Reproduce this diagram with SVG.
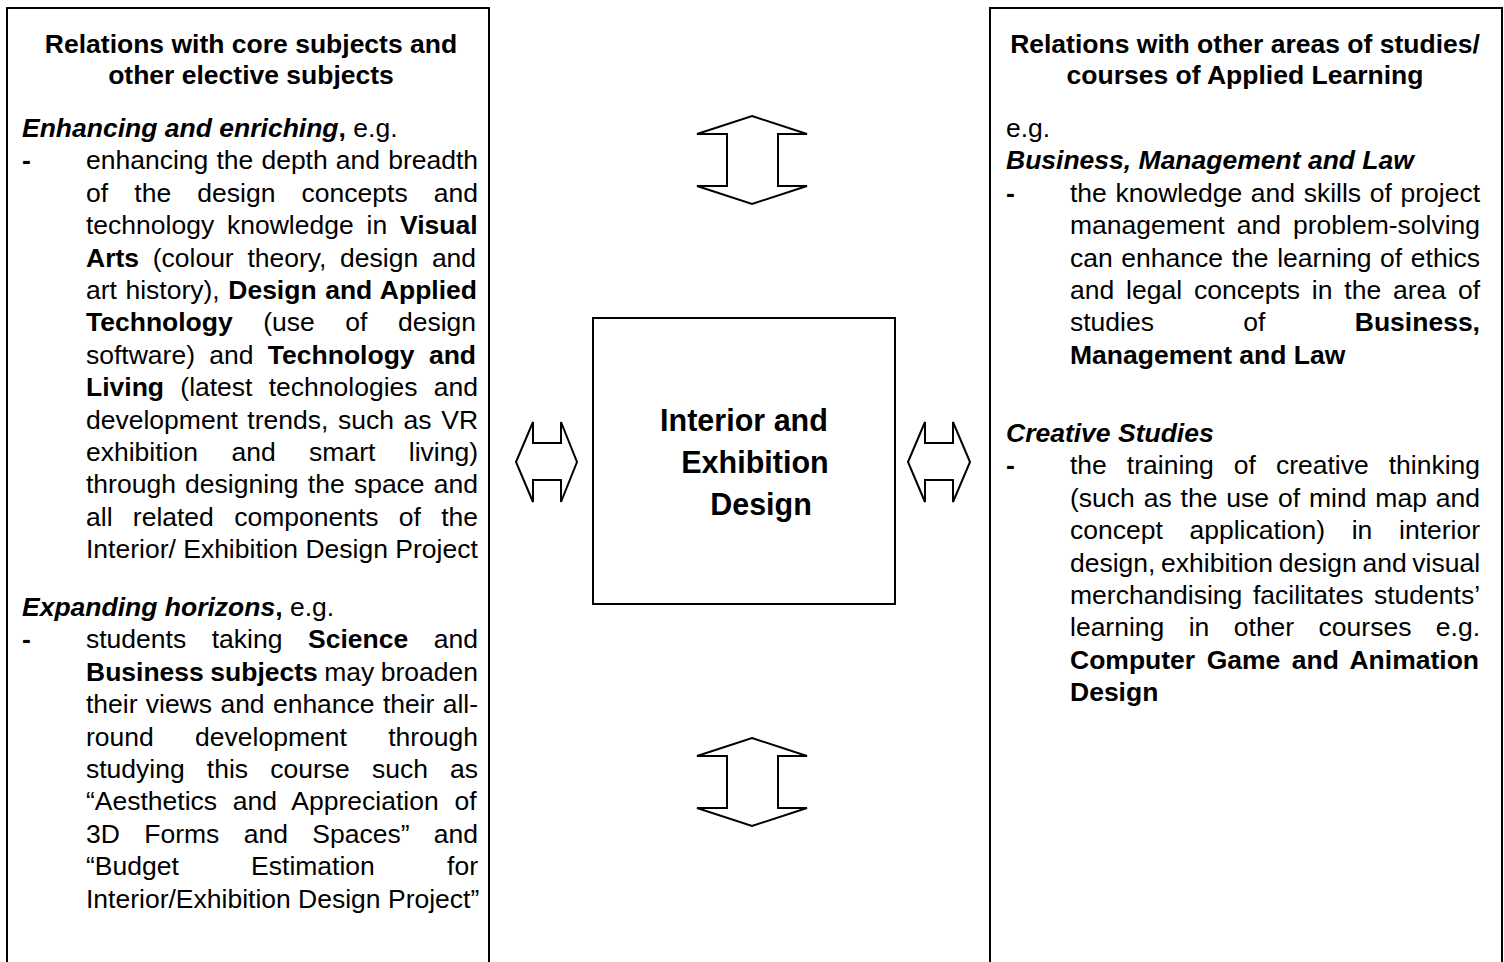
<svg xmlns="http://www.w3.org/2000/svg" width="1504" height="962" viewBox="0 0 1504 962">
<style>
.t{font-family:"Liberation Sans",Arial,sans-serif;font-size:26.5px;fill:#000}
.b{font-weight:bold}
.bi{font-weight:bold;font-style:italic}
.box{fill:#fff;stroke:#000;stroke-width:2}
.arr{fill:#fff;stroke:#000;stroke-width:2;stroke-linejoin:miter}
.ct{font-family:"Liberation Sans",Arial,sans-serif;font-size:30.5px;font-weight:bold;fill:#000;text-anchor:middle}
</style>
<rect width="1504" height="962" fill="#fff"/>

<g id="left-box">
<rect class="box" x="7" y="8" width="482" height="1000"/>
<text class="t b" x="251" y="53" text-anchor="middle">Relations with core subjects and</text>
<text class="t b" x="251" y="84" text-anchor="middle">other elective subjects</text>
<text class="t" x="22" y="137"><tspan class="bi">Enhancing and enriching</tspan><tspan class="b">,</tspan> e.g.</text>
<text class="t b" x="22" y="169.4">-</text>
<text class="t" x="86" y="169.4" word-spacing="0.77">enhancing the depth and breadth</text>
<text class="t" x="86" y="201.8" word-spacing="18.82">of the design concepts and</text>
<text class="t" x="86" y="234.2" word-spacing="5.46">technology knowledge in <tspan class="b">Visual</tspan></text>
<text class="t" x="86" y="266.6" word-spacing="6.32"><tspan class="b">Arts</tspan> (colour theory, design and</text>
<text class="t" x="86" y="299" word-spacing="1.18">art history), <tspan class="b">Design and Applied</tspan></text>
<text class="t" x="86" y="331.4" word-spacing="23.16"><tspan class="b">Technology</tspan> (use of design</text>
<text class="t" x="86" y="363.8" word-spacing="6.97">software) and <tspan class="b">Technology and</tspan></text>
<text class="t" x="86" y="396.2" word-spacing="8.91"><tspan class="b">Living</tspan> (latest technologies and</text>
<text class="t" x="86" y="428.6" word-spacing="2.26">development trends, such as VR</text>
<text class="t" x="86" y="461" word-spacing="26.11">exhibition and smart living)</text>
<text class="t" x="86" y="493.4" word-spacing="1.88">through designing the space and</text>
<text class="t" x="86" y="525.8" word-spacing="12.94">all related components of the</text>
<text class="t" x="86" y="558.2">Interior/ Exhibition Design Project</text>
<text class="t" x="22" y="616"><tspan class="bi">Expanding horizons</tspan><tspan class="b">,</tspan> e.g.</text>
<text class="t b" x="22" y="648.4">-</text>
<text class="t" x="86" y="648.4" word-spacing="18.22">students taking <tspan class="b">Science</tspan> and</text>
<text class="t" x="86" y="680.8" word-spacing="-0.91"><tspan class="b">Business subjects</tspan> may broaden</text>
<text class="t" x="86" y="713.2" word-spacing="0.93">their views and enhance their all-</text>
<text class="t" x="86" y="745.6" word-spacing="33.97">round development through</text>
<text class="t" x="86" y="778" word-spacing="14.78">studying this course such as</text>
<text class="t" x="86" y="810.4" word-spacing="8.41">“Aesthetics and Appreciation of</text>
<text class="t" x="86" y="842.8" word-spacing="17.0">3D Forms and Spaces” and</text>
<text class="t" x="86" y="875.2" word-spacing="64.92">“Budget Estimation for</text>
<text class="t" x="86" y="907.6">Interior/Exhibition Design Project”</text>
</g>

<g id="right-box">
<rect class="box" x="990" y="8" width="512" height="1000"/>
<text class="t b" x="1245" y="53" text-anchor="middle">Relations with other areas of studies/</text>
<text class="t b" x="1245" y="84" text-anchor="middle">courses of Applied Learning</text>
<text class="t" x="1006" y="137">e.g.</text>
<text class="t bi" x="1006" y="169.4">Business, Management and Law</text>
<text class="t b" x="1006" y="201.8">-</text>
<text class="t" x="1070" y="201.8" word-spacing="1.28">the knowledge and skills of project</text>
<text class="t" x="1070" y="234.2" word-spacing="4.70">management and problem-solving</text>
<text class="t" x="1070" y="266.6" word-spacing="1.27">can enhance the learning of ethics</text>
<text class="t" x="1070" y="299" word-spacing="4.50">and legal concepts in the area of</text>
<text class="t" x="1070" y="331.4" word-spacing="82.0">studies of <tspan class="b">Business,</tspan></text>
<text class="t b" x="1070" y="363.8">Management and Law</text>
<text class="t bi" x="1006" y="442">Creative Studies</text>
<text class="t b" x="1006" y="474.4">-</text>
<text class="t" x="1070" y="474.4" word-spacing="12.65">the training of creative thinking</text>
<text class="t" x="1070" y="506.8" word-spacing="1.55">(such as the use of mind map and</text>
<text class="t" x="1070" y="539.2" word-spacing="19.33">concept application) in interior</text>
<text class="t" x="1070" y="571.6" word-spacing="-1.71">design, exhibition design and visual</text>
<text class="t" x="1070" y="604" word-spacing="3.23">merchandising facilitates students’</text>
<text class="t" x="1070" y="636.4" word-spacing="17.07">learning in other courses e.g.</text>
<text class="t b" x="1070" y="668.8" word-spacing="4.15">Computer Game and Animation</text>
<text class="t b" x="1070" y="701.2">Design</text>
</g>

<g id="center-node">
<rect class="box" x="593" y="318" width="302" height="286" stroke-width="1.5"/>
<text class="ct" x="744" y="431">Interior and</text>
<text class="ct" x="755" y="473">Exhibition</text>
<text class="ct" x="761" y="515">Design</text>
</g>

<g id="connectors">
<polygon class="arr" points="752,116 807,134 778,134 778,186 807,186 752,204 697,186 727,186 727,134 697,134"/>
<polygon class="arr" points="752,738 807,756 778,756 778,808 807,808 752,826 697,808 727,808 727,756 697,756"/>
<polygon class="arr" points="516,462 533,422 533,443 561,443 561,422 577,462 561,502 561,480 533,480 533,502"/>
<polygon class="arr" points="908,462 925,422 925,443 953,443 953,422 970,462 953,502 953,480 925,480 925,502"/>
</g>
</svg>
